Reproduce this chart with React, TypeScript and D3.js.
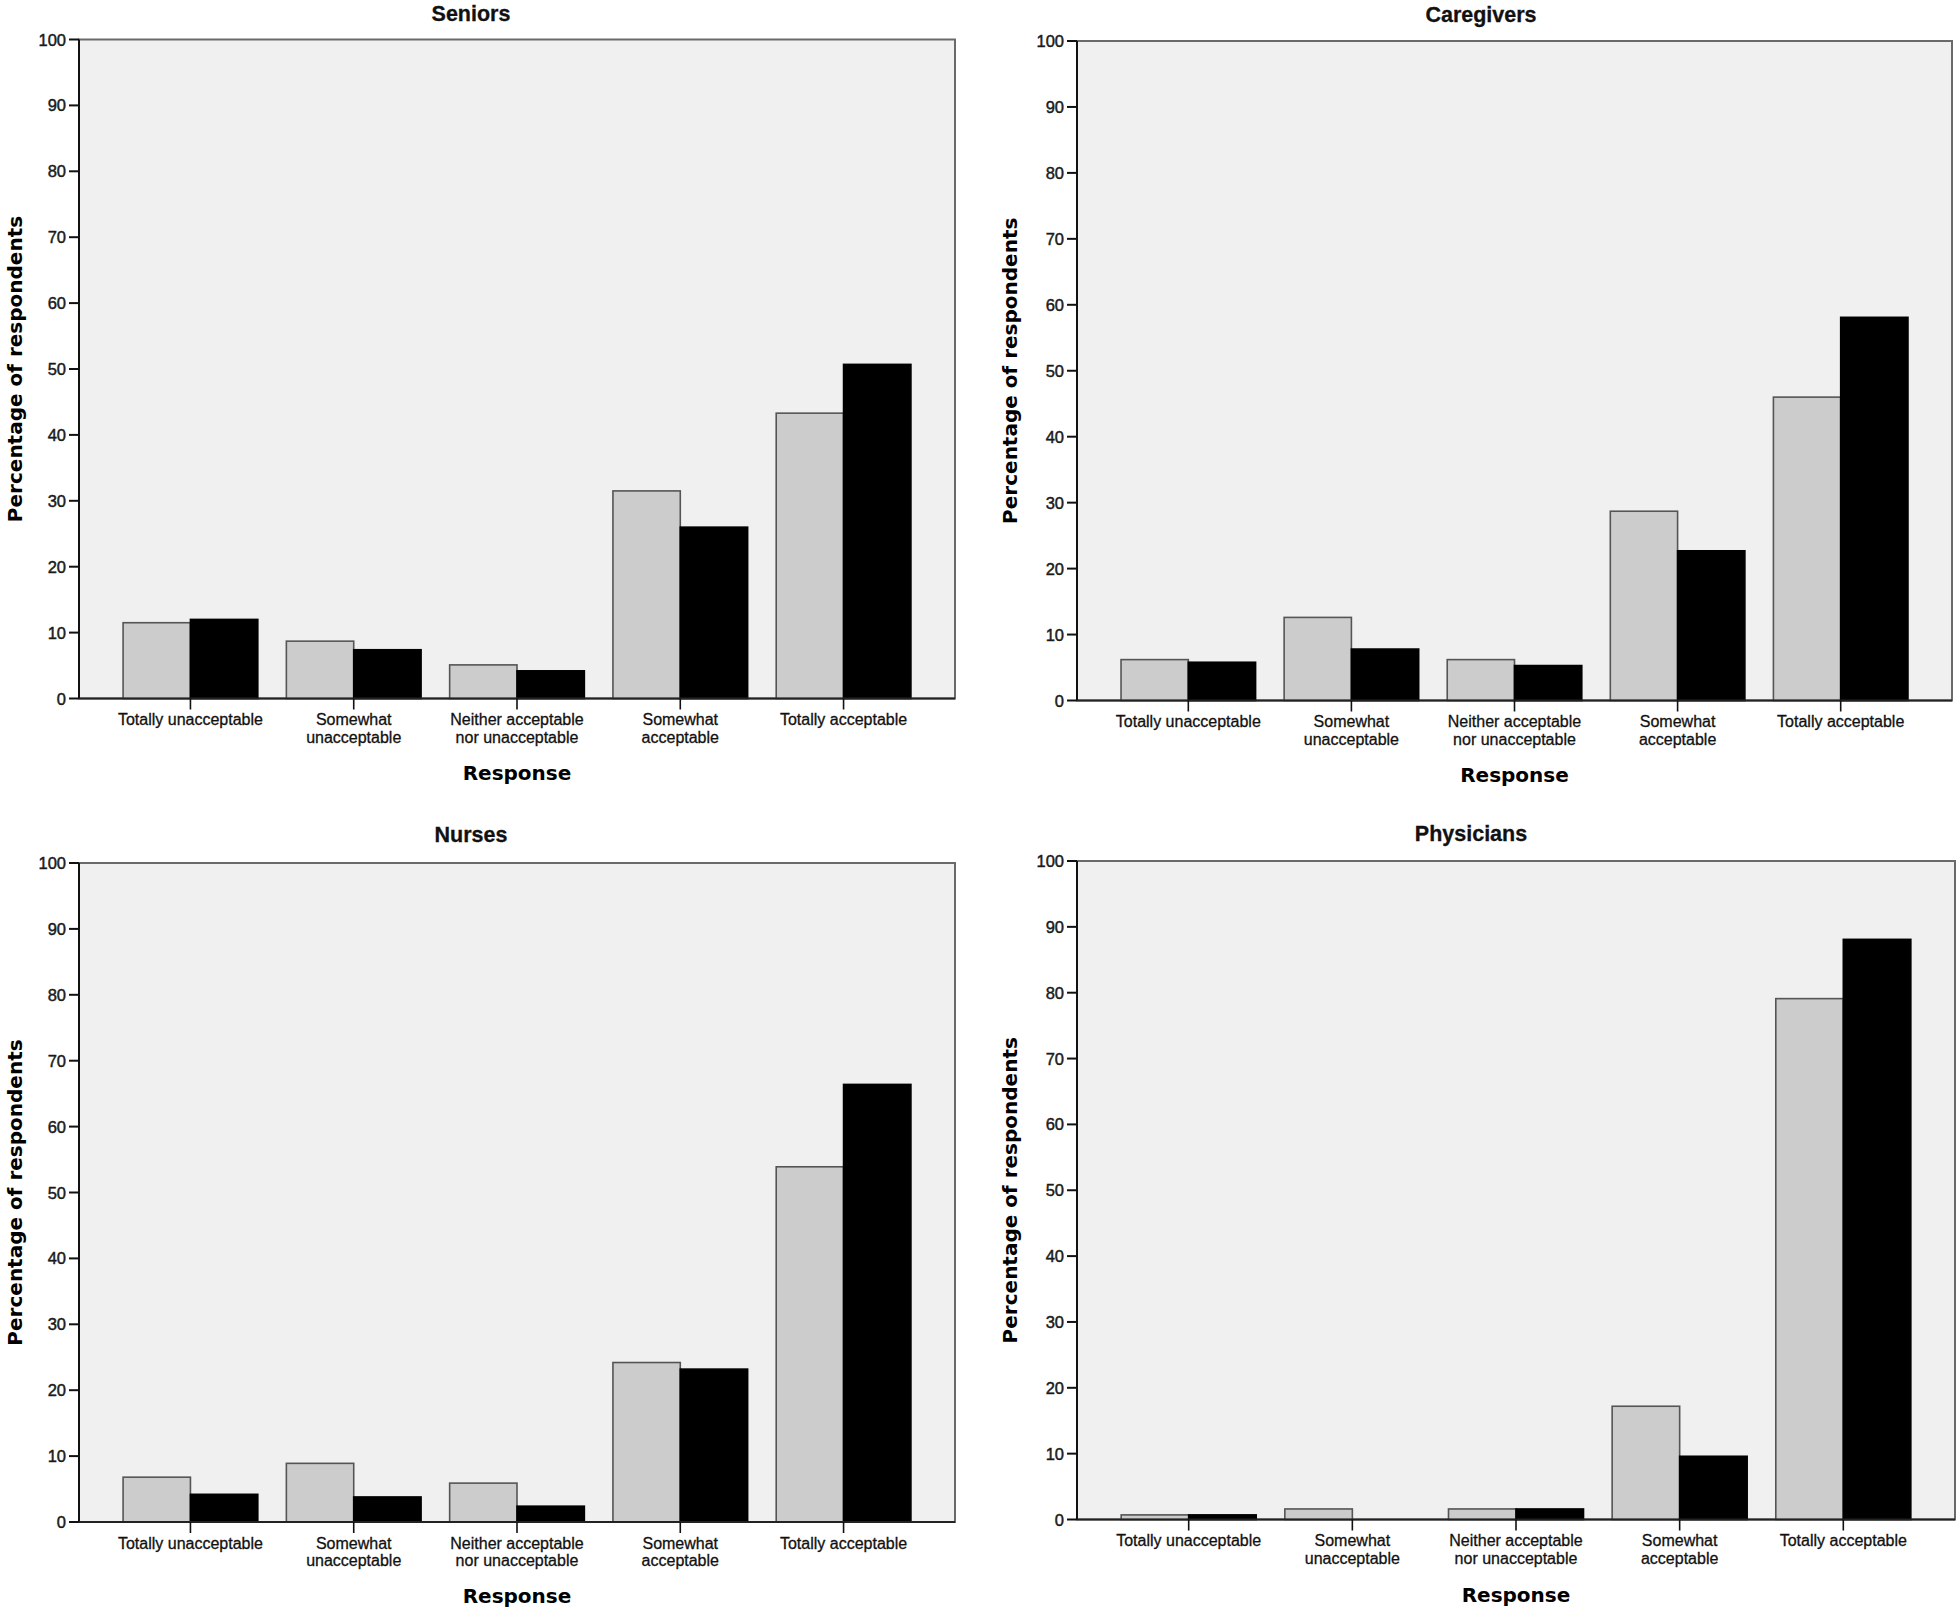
import React from "react";
import * as d3 from "d3";

const categories = [
  "Totally unacceptable",
  "Somewhat unacceptable",
  "Neither acceptable nor unacceptable",
  "Somewhat acceptable",
  "Totally acceptable",
];
const categoryLines = [
  ["Totally unacceptable"],
  ["Somewhat", "unacceptable"],
  ["Neither acceptable", "nor unacceptable"],
  ["Somewhat", "acceptable"],
  ["Totally acceptable"],
];
const seriesKeys = ["grey", "black"];
const yTicks = [0, 10, 20, 30, 40, 50, 60, 70, 80, 90, 100];

const panelTitles = ["Seniors", "Caregivers", "Nurses", "Physicians"];
const seniorsGrey = [11.5, 8.7, 5.1, 31.5, 43.3];
const seniorsBlack = [12.0, 7.4, 4.2, 26.0, 50.7];
const caregiversGrey = [6.2, 12.6, 6.2, 28.7, 46.0];
const caregiversBlack = [5.8, 7.8, 5.3, 22.7, 58.1];
const nursesGrey = [6.8, 8.9, 5.9, 24.2, 53.9];
const nursesBlack = [4.2, 3.8, 2.4, 23.2, 66.4];
const physiciansGrey = [0.7, 1.6, 1.6, 17.2, 79.1];
const physiciansBlack = [0.7, 0.0, 1.6, 9.6, 88.1];

const xTitle = "Response";
const yTitle = "Percentage of respondents";

const layouts = [
  { L: 79, R: 955, T: 39.5, B: 698.5, titleX: 471, titleY: 14, yLabX: 15, respY: 773 },
  { L: 1077, R: 1952, T: 41, B: 700.5, titleX: 1481, titleY: 15, yLabX: 1010, respY: 775 },
  { L: 79, R: 955, T: 863, B: 1522, titleX: 471, titleY: 835, yLabX: 15, respY: 1596 },
  { L: 1077, R: 1955, T: 861, B: 1519.5, titleX: 1471, titleY: 834, yLabX: 1010, respY: 1595 },
];

const panelData = [
  [seniorsGrey, seniorsBlack],
  [caregiversGrey, caregiversBlack],
  [nursesGrey, nursesBlack],
  [physiciansGrey, physiciansBlack],
];

const SANS = "'Liberation Sans', Arial, sans-serif";
const WIDE = "'DejaVu Sans', Verdana, sans-serif";

function Panel({ idx }: { idx: number }) {
  const lay = layouts[idx];
  const [g, b] = panelData[idx];
  const x = d3
    .scaleBand<string>()
    .domain(categories)
    .range([lay.L, lay.R])
    .paddingInner(0.175)
    .paddingOuter(0.27);
  const sub = d3.scaleBand<string>().domain(seriesKeys).range([0, x.bandwidth()]);
  const y = d3.scaleLinear().domain([0, 100]).range([lay.B, lay.T]);
  const series = [
    { key: "grey", vals: g, fill: "#cccccc", stroke: "#555555" },
    { key: "black", vals: b, fill: "#000000", stroke: "#000000" },
  ];
  const cy = (lay.T + lay.B) / 2;
  return (
    <g>
      <text
        x={lay.titleX}
        y={lay.titleY}
        textAnchor="middle"
        dominantBaseline="central"
        fontFamily={SANS}
        fontWeight="bold"
        fontSize={21.5}
        fill="#111"
        stroke="#111"
        strokeWidth={0.3}
      >
        {panelTitles[idx]}
      </text>
      <rect
        x={lay.L}
        y={lay.T}
        width={lay.R - lay.L}
        height={lay.B - lay.T}
        fill="#f0f0f0"
        stroke="#6a6a6a"
        strokeWidth={2}
      />
      {series.map((s) =>
        categories.map((c, i) => {
          const v = s.vals[i];
          const x0 = (x(c) as number) + (sub(s.key) as number);
          return (
            <rect
              key={s.key + i}
              x={x0}
              y={y(v)}
              width={sub.bandwidth()}
              height={y(0) - y(v)}
              fill={s.fill}
              stroke={s.stroke}
              strokeWidth={1.6}
            />
          );
        })
      )}
      <line x1={lay.L} x2={lay.L} y1={lay.T} y2={lay.B} stroke="#111" strokeWidth={2} />
      <line x1={lay.L} x2={lay.R} y1={lay.B} y2={lay.B} stroke="#222" strokeWidth={2} />
      {yTicks.map((t) => (
        <g key={t}>
          <line x1={lay.L - 10} x2={lay.L} y1={y(t)} y2={y(t)} stroke="#111" strokeWidth={2} />
          <text
            x={lay.L - 13}
            y={y(t)}
            textAnchor="end"
            dominantBaseline="central"
            fontFamily={SANS}
            fontSize={16.5}
            fill="#1a1a1a"
            stroke="#1a1a1a"
            strokeWidth={0.45}
          >
            {t}
          </text>
        </g>
      ))}
      {categories.map((c, i) => {
        const cx = (x(c) as number) + x.bandwidth() / 2;
        return (
          <g key={c}>
            <line x1={cx} x2={cx} y1={lay.B} y2={lay.B + 11} stroke="#111" strokeWidth={1.6} />
            {categoryLines[i].map((ln, j) => (
              <text
                key={j}
                x={cx}
                y={lay.B + 21 + j * 17.5}
                textAnchor="middle"
                dominantBaseline="central"
                fontFamily={SANS}
                fontSize={16}
                fill="#111"
                stroke="#111"
                strokeWidth={0.3}
              >
                {ln}
              </text>
            ))}
          </g>
        );
      })}
      <text
        x={(lay.L + lay.R) / 2}
        y={lay.respY}
        textAnchor="middle"
        dominantBaseline="central"
        fontFamily={WIDE}
        fontWeight="bold"
        fontSize={20}
        fill="#000"
      >
        {xTitle}
      </text>
      <text
        transform={`translate(${lay.yLabX},${cy}) rotate(-90)`}
        textAnchor="middle"
        dominantBaseline="central"
        fontFamily={WIDE}
        fontWeight="bold"
        fontSize={20}
        fill="#000"
      >
        {yTitle}
      </text>
    </g>
  );
}

export default function App() {
  return (
    <svg
      width={1960}
      height={1613}
      style={{ position: "absolute", left: 0, top: 0, display: "block", background: "#fff" }}
    >
      <rect x={0} y={0} width={1960} height={1613} fill="#fff" />
      {panelTitles.map((_, i) => (
        <Panel key={i} idx={i} />
      ))}
    </svg>
  );
}
